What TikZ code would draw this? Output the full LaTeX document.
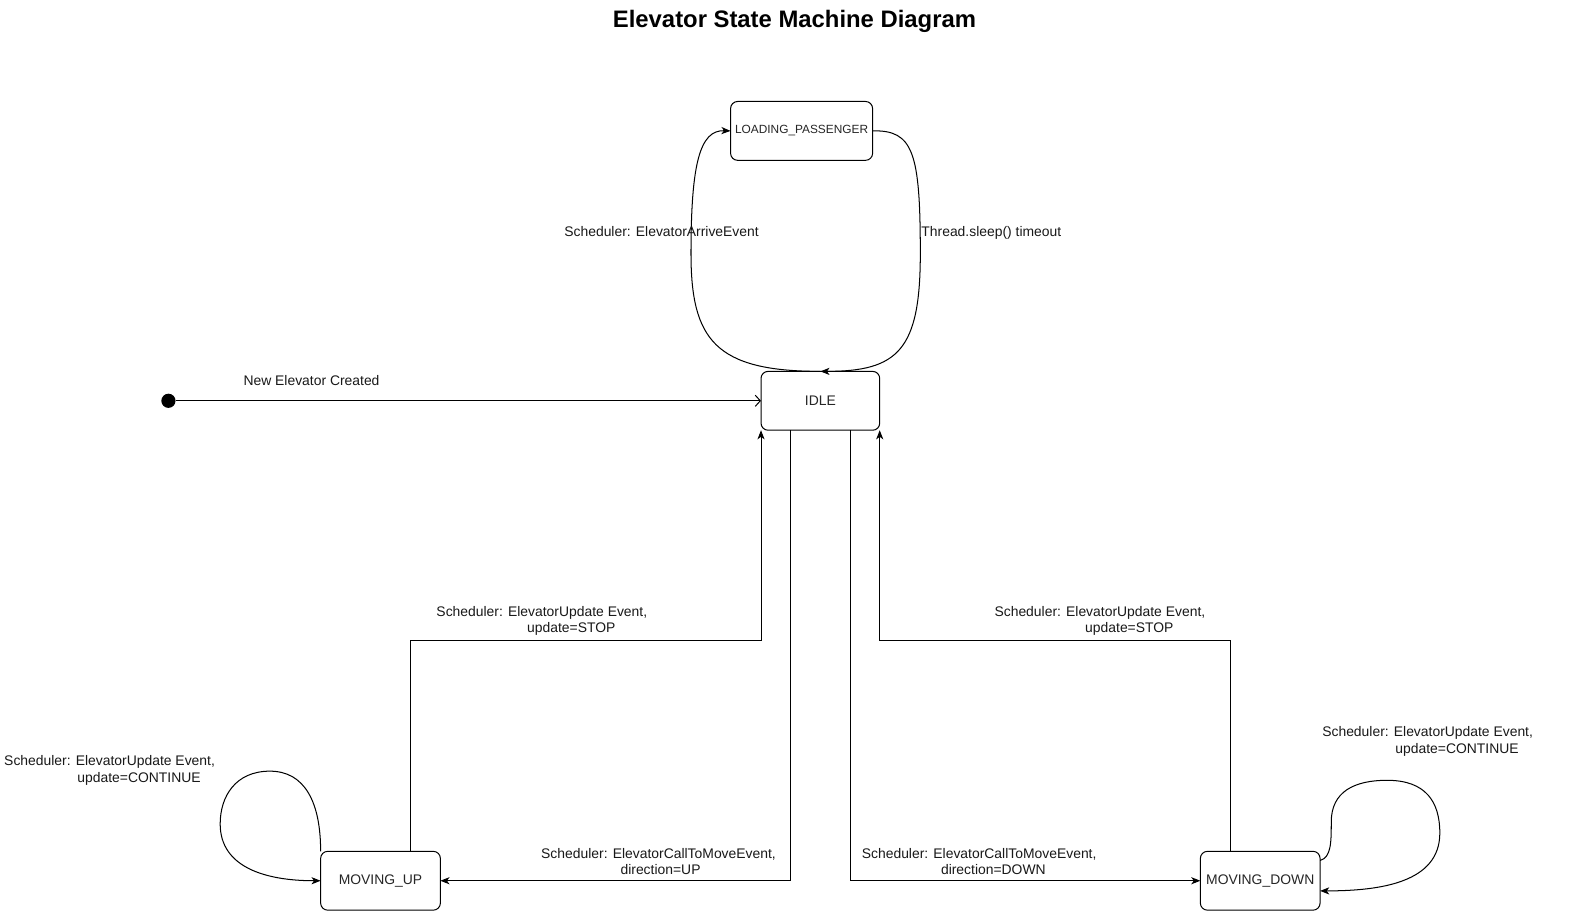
\documentclass[tikz,border=0pt]{standalone}
\usepackage{fontspec}
\setmainfont{Liberation Sans}
\usetikzlibrary{arrows.meta,calc}
\begin{document}
\begin{tikzpicture}[x=1pt,y=-1pt,
  state/.style={draw, line width=1pt, rounded corners=7pt, inner sep=0pt, outer sep=0pt, minimum width=118pt, minimum height=58pt, font=\fontsize{13.7}{16}\selectfont, text=black!85},
  lbl/.style={font=\fontsize{13.7}{16.5}\selectfont, align=center, inner sep=0pt, text=black!90},
  arr/.style={line width=1pt, -{Stealth[length=9pt,width=7pt,inset=2.5pt]}},
  openarr/.style={line width=1pt, -{Straight Barb[length=5pt,width=11pt,line width=1pt]}}]
\useasboundingbox (0,0) rectangle (1568,898);
\fill[white] (0,0) rectangle (1568,898);

\node[font=\bfseries\fontsize{23.5}{26}\selectfont] (title) at (783,21.5) {Elevator State Machine Diagram};

\node[state, minimum width=140pt, font=\fontsize{11.7}{14}\selectfont] (load) at (790,129) {LOADING\_PASSENGER};
\node[state, minimum width=117pt] (idle) at (808.5,395) {IDLE};
\node[state] (mup) at (375,868) {MOVING\_UP};
\node[state] (mdown) at (1242,868) {MOVING\_DOWN};
\node[circle, fill=black, inner sep=0pt, minimum size=14pt] (init) at (166,395) {};

% initial
\draw[openarr] (init) -- (idle.west);
\node[lbl] (lnew) at (307,375) {New Elevator Created};

% idle <-> loading
\draw[arr] (idle.north) .. controls (705,366) and (681,335) .. (681,250) .. controls (681,160) and (690,128) .. (load.west);
\draw[arr] (load.east) .. controls (900,128) and (907,150) .. (907,250) .. controls (907,345) and (885,366) .. (idle.north);
\node[lbl] (larrive) at (652,228) {Scheduler: ElevatorArriveEvent};
\node[lbl] (lsleep) at (977,229.5) {Thread.sleep() timeout};

% idle -> moving
\draw[arr] ([xshift=-29.5pt]idle.south) |- (mup.east);
\draw[arr] ([xshift=29.5pt]idle.south) |- (mdown.west);
\node[lbl] (lcallup) at (649,849) {Scheduler: ElevatorCallToMoveEvent,\\\hspace*{4pt}direction=UP};
\node[lbl] (lcalldown) at (965,849) {Scheduler: ElevatorCallToMoveEvent,\\\hspace*{28pt}direction=DOWN};

% moving -> idle (STOP)
\coordinate (k1) at (405,631);
\coordinate (k2) at (1213,631);
\draw[arr] ([xshift=30pt]mup.north) -- (k1) -- (k1 -| idle.south west) -- (idle.south west);
\draw[arr] ([xshift=-29pt]mdown.north) -- (k2) -- (k2 -| idle.south east) -- (idle.south east);
\node[lbl] (lstopup) at (534,612) {Scheduler: ElevatorUpdate Event,\\\hspace*{58pt}update=STOP};
\node[lbl] (lstopdown) at (1084,612) {Scheduler: ElevatorUpdate Event,\\\hspace*{58pt}update=STOP};

% self loops
\draw[arr] (mup.north west) .. controls (316,790) and (300,760) .. (266,760) .. controls (232,760) and (217,785) .. (217,812) .. controls (217,855) and (262,868) .. (mup.west);
\node[lbl] (lcontup) at (108,759) {Scheduler: ElevatorUpdate Event,\\\hspace*{58pt}update=CONTINUE};
\draw[arr] ([yshift=20pt]mdown.east) .. controls (1312,845) and (1312,830) .. (1312,810) .. controls (1312,780) and (1335,769) .. (1367,769) .. controls (1405,769) and (1419,790) .. (1419,821) .. controls (1419,870) and (1360,878) .. ([yshift=-10pt]mdown.east);
\node[lbl] (lcontdown) at (1407,731) {Scheduler: ElevatorUpdate Event,\\\hspace*{58pt}update=CONTINUE};
\end{tikzpicture}
\end{document}
